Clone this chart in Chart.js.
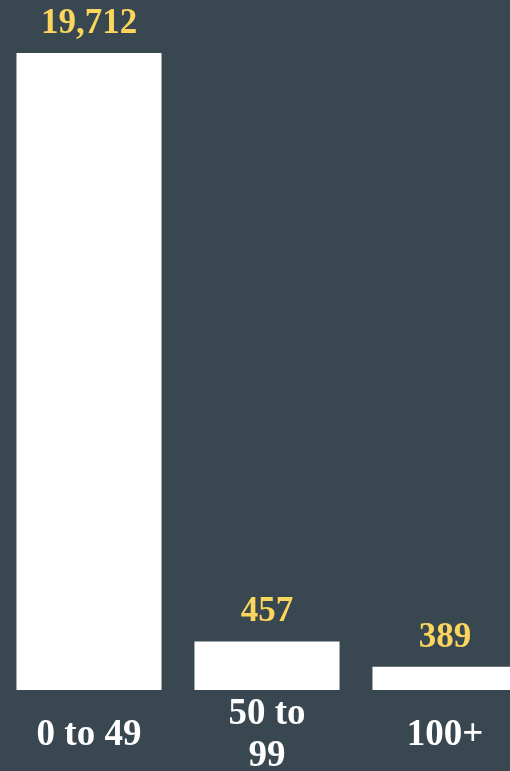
<!DOCTYPE html>
<html>
<head>
<meta charset="utf-8">
<script src="https://cdn.jsdelivr.net/npm/chart.js@4/dist/chart.umd.min.js"></script>
<style>
  html, body { margin: 0; padding: 0; background: #384750; overflow: hidden; width: 510px; height: 771px; }
  #wrap { position: absolute; left: 0; top: 0; width: 534px; height: 771px; }
</style>
</head>
<body>
<div id="wrap"><canvas id="c" width="534" height="771"></canvas></div>
<script>
const categories = ["0 to 49", "50 to 99", "100+"];
const tickLabels = [["0 to 49"], ["50 to", "99"], ["100+"]];
const counts = [19712, 457, 389];

const FONT = '"Liberation Serif", "DejaVu Serif", serif';
const BG = '#384750';
const YELLOW = '#fbd55d';

const valueLabels = {
  id: 'valueLabels',
  afterDatasetsDraw(chart) {
    const ctx = chart.ctx;
    const meta = chart.getDatasetMeta(0);
    ctx.save();
    ctx.fillStyle = YELLOW;
    ctx.font = 'bold 35px ' + FONT;
    ctx.textAlign = 'center';
    ctx.textBaseline = 'middle';
    meta.data.forEach((bar, i) => {
      const v = chart.data.datasets[0].data[i];
      ctx.fillText(v.toLocaleString('en-US'), bar.x, bar.y - 29);
    });
    ctx.restore();
  }
};

new Chart(document.getElementById('c'), {
  type: 'bar',
  data: {
    labels: tickLabels,
    datasets: [{
      label: 'Count',
      data: counts,
      backgroundColor: '#ffffff',
      borderWidth: 0,
      barPercentage: 0.815,
      categoryPercentage: 1.0
    }]
  },
  options: {
    responsive: false,
    animation: false,
    layout: { padding: { top: 53, left: 0, right: 0, bottom: 0 } },
    plugins: {
      legend: { display: false },
      tooltip: { enabled: false }
    },
    scales: {
      x: {
        grid: { display: false, drawTicks: false },
        border: { display: false },
        ticks: {
          color: '#ffffff',
          font: { family: FONT, size: 37, weight: 'bold', lineHeight: 1.16 },
          padding: 24,
          crossAlign: 'center',
          maxRotation: 0,
          autoSkip: false
        },
        afterFit(scale) { scale.height = 81; }
      },
      y: {
        type: 'logarithmic',
        display: false,
        min: 335,
        max: 19712
      }
    }
  },
  plugins: [valueLabels]
});
</script>
</body>
</html>
